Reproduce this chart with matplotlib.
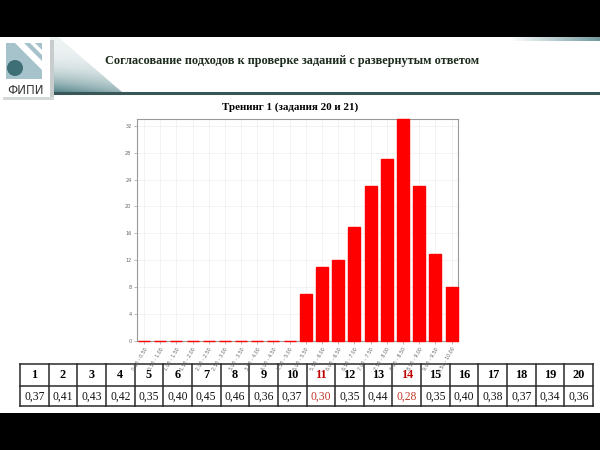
import numpy as np
import matplotlib.pyplot as plt
from matplotlib.patches import Rectangle, Polygon, Circle

# histogram data
bins = ['0.00 - 0.50', '0.50 - 1.00', '1.00 - 1.50', '1.50 - 2.00', '2.00 - 2.50',
        '2.50 - 3.00', '3.00 - 3.50', '3.50 - 4.00', '4.00 - 4.50', '4.50 - 5.00',
        '5.00 - 5.50', '5.50 - 6.00', '6.00 - 6.50', '6.50 - 7.00', '7.00 - 7.50',
        '7.50 - 8.00', '8.00 - 8.50', '8.50 - 9.00', '9.00 - 9.50', '9.50 - 10.00']
counts = [0, 0, 0, 0, 0, 0, 0, 0, 0, 0, 7, 11, 12, 17, 23, 27, 33, 23, 13, 8]
yticks = [0, 4, 8, 12, 16, 20, 24, 28, 32]

# table under the chart
tasks = list(range(1, 21))
task_vals = ['0,37', '0,41', '0,43', '0,42', '0,35', '0,40', '0,45', '0,46', '0,36', '0,37',
             '0,30', '0,35', '0,44', '0,28', '0,35', '0,40', '0,38', '0,37', '0,34', '0,36']
red_tasks = [11, 14]

header = 'Согласование подходов к проверке заданий с развернутым ответом'
chart_title = 'Тренинг 1 (задания 20 и 21)'

W, H = 600, 450
fig = plt.figure(figsize=(6, 4.5), dpi=100, facecolor='black')

# overlay axes in pixel coords for the slide decorations
deco = fig.add_axes([0, 0, 1, 1])
deco.set_xlim(0, W)
deco.set_ylim(H, 0)
deco.axis('off')
deco.patch.set_alpha(0)

deco.add_patch(Rectangle((0, 37), W, 376, facecolor='white', edgecolor='none', zorder=0))

# gradient wedge next to the logo
grad = np.zeros((60, 80, 4))
yy, xx = np.mgrid[0:1:60j, 0:1:80j]
grad[..., 0] = 0.30
grad[..., 1] = 0.50
grad[..., 2] = 0.52
grad[..., 3] = np.clip(0.10 + 0.9 * yy ** 3 * (1 - 0.5 * xx), 0, 1)
im = deco.imshow(grad, extent=(50, 130, 93, 37), aspect='auto', zorder=1)
wedge = Polygon([(50, 37), (58, 37), (122, 92), (50, 92)], closed=True, transform=deco.transData)
im.set_clip_path(wedge)

# small gradient strip at top right
strip = np.zeros((1, 100, 4))
strip[0, :, 0] = 0.30
strip[0, :, 1] = 0.50
strip[0, :, 2] = 0.52
strip[0, :, 3] = np.linspace(0, 0.8, 100)
deco.imshow(strip, extent=(510, 600, 41, 37), aspect='auto', zorder=1)

# line under header
deco.plot([50, 600], [92.5, 92.5], color='#3a5758', lw=2.2, zorder=2, solid_capstyle='butt')

# logo
deco.add_patch(Rectangle((50, 40), 4, 60, facecolor='#c8cccc', edgecolor='none', zorder=2))
deco.add_patch(Rectangle((3, 97), 51, 3, facecolor='#d5d8d8', edgecolor='none', zorder=2))
deco.add_patch(Rectangle((0, 37), 50, 60, facecolor='white', edgecolor='none', zorder=3))
deco.add_patch(Rectangle((6, 43), 36, 36, facecolor='#a6c2cb', edgecolor='none', zorder=4))
deco.add_patch(Polygon([(15, 43), (24, 43), (42, 61), (42, 70)], closed=True,
                       facecolor='white', edgecolor='none', zorder=5))
deco.add_patch(Polygon([(30, 43), (35, 43), (42, 50), (42, 55)], closed=True,
                       facecolor='white', edgecolor='none', zorder=5))
deco.add_patch(Circle((15, 68), 8, facecolor='#3f6f76', edgecolor='none', zorder=6))
deco.text(25, 91, 'ФИПИ', ha='center', va='center', fontsize=8.5, color='#3a3a3a',
          family='DejaVu Sans', zorder=6)

# header text
deco.text(105, 61, header, ha='left', va='center', fontsize=8.8, fontweight='bold',
          color='#1c2b1c', family='Liberation Serif', zorder=6)
deco.text(290, 107, chart_title, ha='center', va='center', fontsize=7.9, fontweight='bold',
          color='black', family='Liberation Serif', zorder=6)

# table
tx0, tx1 = 20, 593
ty0, tmid, ty1 = 364, 386, 406
cw = (tx1 - tx0) / len(tasks)
for y in [ty0, tmid, ty1]:
    deco.plot([tx0, tx1], [y, y], color='#2a2a2a', lw=1.1, zorder=6)
for i in range(len(tasks) + 1):
    deco.plot([tx0 + i * cw, tx0 + i * cw], [ty0, ty1], color='#2a2a2a', lw=1.1, zorder=6)
for i, (t, v) in enumerate(zip(tasks, task_vals)):
    cx = tx0 + (i + 0.5) * cw
    hl = t in red_tasks
    deco.text(cx, (ty0 + tmid) / 2 + 0.5, str(t), ha='center', va='center', fontsize=8.8,
              fontweight='bold', color='#c00000' if hl else 'black',
              family='Liberation Serif', zorder=7)
    deco.text(cx, (tmid + ty1) / 2 + 0.5, v, ha='center', va='center', fontsize=8.4,
              color='#c0392b' if hl else '#111111', family='Liberation Serif', zorder=7)

# chart
ax = fig.add_axes([137 / W, 1 - 341 / H, 321 / W, 222 / H])
ax.set_zorder(5)
x = np.arange(len(bins))
ax.bar(x, counts, width=0.74, color='#ff0000', edgecolor='#ff0000', linewidth=1.0,
       zorder=3, clip_on=False)
ax.set_xlim(-0.43, len(bins) - 0.6)
ax.set_ylim(0, 33)
ax.set_yticks(yticks)
ax.set_yticklabels([str(v) for v in yticks], fontsize=3.6, color='#666666')
ax.set_xticks(x)
ax.set_xticklabels(bins, fontsize=3.4, color='#666666', rotation=60, ha='right',
                   rotation_mode='anchor')
ax.tick_params(length=2, width=0.4, color='#888888', pad=2)
ax.grid(True, color='#eeeeee', lw=0.5, zorder=0)
for s in ax.spines.values():
    s.set_color('#999999')
    s.set_linewidth(0.8)

fig.savefig('out.png', dpi=100, facecolor='black')
